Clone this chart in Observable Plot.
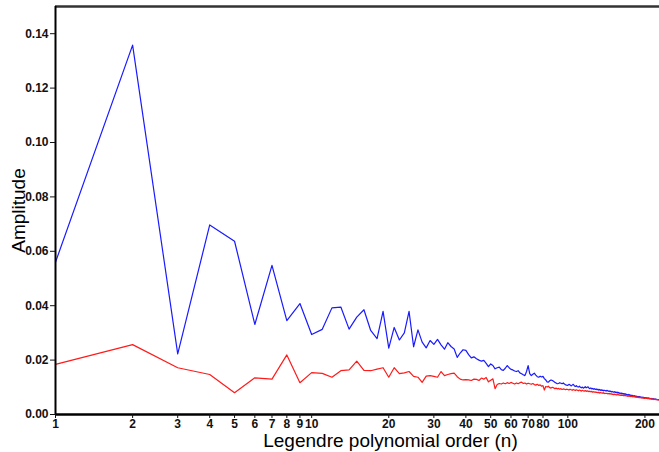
<!DOCTYPE html>
<html>
<head>
<meta charset="utf-8">
<script src="https://cdn.jsdelivr.net/npm/d3@7"></script>
<script src="https://cdn.jsdelivr.net/npm/@observablehq/plot@0.6"></script>
<style>
  html, body { margin: 0; padding: 0; background: #fff; }
  #chart svg { display: block; font-family: "Liberation Sans", Arial, sans-serif; }
</style>
</head>
<body>
<div id="chart"></div>
<script>
// Legendre polynomial order n = 1..228
const orders = d3.range(1, 229);

const blueAmp = [
  0.0560,0.1358,0.0223,0.0697,0.0637,0.0331,0.0548,0.0345,0.0408,0.0294,
  0.0313,0.0392,0.0395,0.0314,0.0358,0.0385,0.0309,0.0279,0.0379,0.0244,
  0.0320,0.0274,0.0300,0.0379,0.0249,0.0311,0.0266,0.0245,0.0272,0.0258,
  0.0276,0.0256,0.0240,0.0264,0.0250,0.0241,0.0210,0.0226,0.0238,0.0236,
  0.0220,0.0208,0.0212,0.0205,0.0200,0.0196,0.0199,0.0188,0.0176,0.0186,
  0.0180,0.0168,0.0172,0.0174,0.0165,0.0162,0.0170,0.0180,0.0172,0.0166,
  0.0164,0.0160,0.0158,0.0161,0.0153,0.0150,0.0146,0.0143,0.0158,0.0180,
  0.0150,0.0143,0.0148,0.0152,0.0145,0.0139,0.0137,0.0141,0.0138,0.0140,
  0.0132,0.0127,0.0120,0.0119,0.0124,0.0127,0.0125,0.0122,0.0118,0.0116,
  0.0113,0.0114,0.0117,0.0115,0.0113,0.0116,0.0112,0.0109,0.0108,0.0107,
  0.0111,0.0109,0.0105,0.0108,0.0111,0.0106,0.0103,0.0106,0.0102,0.0101,
  0.0104,0.0100,0.0098,0.0101,0.0097,0.0099,0.0102,0.0098,0.0100,0.0102,
  0.0097,0.0095,0.0098,0.0094,0.0096,0.0093,0.0095,0.0092,0.0094,0.0091,
  0.0093,0.0090,0.0092,0.0089,0.0091,0.0088,0.0090,0.0087,0.0089,0.0088,
  0.0086,0.0089,0.0087,0.0085,0.0087,0.0084,0.0086,0.0083,0.0085,0.0083,
  0.0082,0.0084,0.0081,0.0083,0.0080,0.0082,0.0079,0.0081,0.0078,0.0079,
  0.0077,0.0079,0.0076,0.0078,0.0075,0.0077,0.0074,0.0076,0.0073,0.0074,
  0.0072,0.0074,0.0071,0.0073,0.0070,0.0071,0.0069,0.0071,0.0068,0.0069,
  0.0067,0.0069,0.0066,0.0068,0.0066,0.0067,0.0065,0.0066,0.0064,0.0066,
  0.0064,0.0065,0.0063,0.0064,0.0062,0.0064,0.0062,0.0063,0.0061,0.0062,
  0.0061,0.0062,0.0060,0.0061,0.0059,0.0061,0.0059,0.0060,0.0058,0.0059,
  0.0058,0.0059,0.0057,0.0058,0.0057,0.0058,0.0056,0.0057,0.0056,0.0057,
  0.0055,0.0056,0.0055,0.0055,0.0054,0.0055,0.0054,0.0054
];

const redAmp = [
  0.0184,0.0257,0.0172,0.0147,0.0080,0.0135,0.0130,0.0219,0.0117,0.0154,
  0.0151,0.0137,0.0161,0.0164,0.0196,0.0162,0.0161,0.0167,0.0172,0.0137,
  0.0172,0.0150,0.0153,0.0158,0.0140,0.0137,0.0118,0.0141,0.0143,0.0140,
  0.0137,0.0158,0.0143,0.0147,0.0150,0.0152,0.0139,0.0130,0.0127,0.0128,
  0.0127,0.0125,0.0130,0.0129,0.0125,0.0134,0.0130,0.0136,0.0120,0.0126,
  0.0131,0.0095,0.0110,0.0114,0.0112,0.0116,0.0113,0.0117,0.0114,0.0118,
  0.0115,0.0112,0.0116,0.0113,0.0117,0.0119,0.0114,0.0116,0.0112,0.0115,
  0.0113,0.0111,0.0114,0.0110,0.0108,0.0111,0.0107,0.0109,0.0104,0.0106,
  0.0090,0.0103,0.0101,0.0104,0.0099,0.0097,0.0100,0.0098,0.0095,0.0097,
  0.0094,0.0096,0.0093,0.0095,0.0092,0.0094,0.0093,0.0091,0.0093,0.0092,
  0.0090,0.0093,0.0091,0.0089,0.0092,0.0090,0.0088,0.0091,0.0089,0.0087,
  0.0090,0.0088,0.0086,0.0089,0.0087,0.0086,0.0088,0.0085,0.0087,0.0086,
  0.0084,0.0086,0.0083,0.0085,0.0082,0.0084,0.0082,0.0083,0.0081,0.0082,
  0.0080,0.0082,0.0079,0.0081,0.0079,0.0080,0.0078,0.0080,0.0077,0.0078,
  0.0077,0.0078,0.0076,0.0077,0.0075,0.0077,0.0075,0.0076,0.0074,0.0075,
  0.0073,0.0075,0.0073,0.0074,0.0072,0.0074,0.0072,0.0073,0.0071,0.0072,
  0.0070,0.0072,0.0070,0.0071,0.0069,0.0071,0.0069,0.0070,0.0068,0.0069,
  0.0067,0.0069,0.0067,0.0068,0.0066,0.0068,0.0066,0.0067,0.0065,0.0066,
  0.0065,0.0066,0.0064,0.0065,0.0063,0.0065,0.0063,0.0064,0.0062,0.0063,
  0.0062,0.0063,0.0061,0.0062,0.0060,0.0062,0.0060,0.0061,0.0059,0.0061,
  0.0060,0.0061,0.0059,0.0060,0.0058,0.0060,0.0058,0.0059,0.0057,0.0058,
  0.0057,0.0058,0.0056,0.0057,0.0056,0.0057,0.0055,0.0056,0.0055,0.0056,
  0.0055,0.0055,0.0054,0.0055,0.0054,0.0054,0.0053,0.0054
];

const xTicks = [1, 2, 3, 4, 5, 6, 7, 8, 9, 10, 20, 30, 40, 50, 60, 70, 80, 100, 200];
const yTicks = [0, 0.02, 0.04, 0.06, 0.08, 0.10, 0.12, 0.14];
const xTitle = "Legendre polynomial order (n)";
const yTitle = "Amplitude";

const blueData = orders.map((n, i) => ({n, a: blueAmp[i]}));
const redData = orders.map((n, i) => ({n, a: redAmp[i]}));

const chart = Plot.plot({
  width: 659,
  height: 452,
  marginLeft: 55,
  marginRight: 0,
  marginTop: 6,
  marginBottom: 38,
  x: {type: "log", domain: [1, 228]},
  y: {domain: [0, 0.15]},
  marks: [
    Plot.line(blueData, {x: "n", y: "a", stroke: "#1a1aff", strokeWidth: 1.2}),
    Plot.line(redData, {x: "n", y: "a", stroke: "#ff1a1a", strokeWidth: 1.2}),
    Plot.ruleY([0.15], {stroke: "#333", strokeWidth: 2.5}),
    Plot.ruleY([0], {stroke: "#000", strokeWidth: 2.5}),
    Plot.ruleX([1], {stroke: "#000", strokeWidth: 2}),
    Plot.axisX({ticks: xTicks, tickFormat: () => "", tickSize: 4, label: null, color: "#111"}),
    Plot.text(xTicks, {x: d => d, text: d => String(d), frameAnchor: "bottom", lineAnchor: "top",
      dy: 5, fontSize: 12, fontWeight: "bold", fill: "#111"}),
    Plot.axisY({ticks: yTicks, tickFormat: d3.format(".2f"), tickSize: 5, tickPadding: 2,
      label: null, fontSize: 12, fontWeight: "bold", color: "#111"}),
    Plot.text([yTitle], {frameAnchor: "left", textAnchor: "middle", rotate: -90, dx: -37, fontSize: 19, fill: "#000"}),
    Plot.text([xTitle], {frameAnchor: "bottom", textAnchor: "middle", lineAnchor: "middle", dx: 33, dy: 26, fontSize: 19, fill: "#000"})
  ]
});
document.getElementById("chart").append(chart);
</script>
</body>
</html>
